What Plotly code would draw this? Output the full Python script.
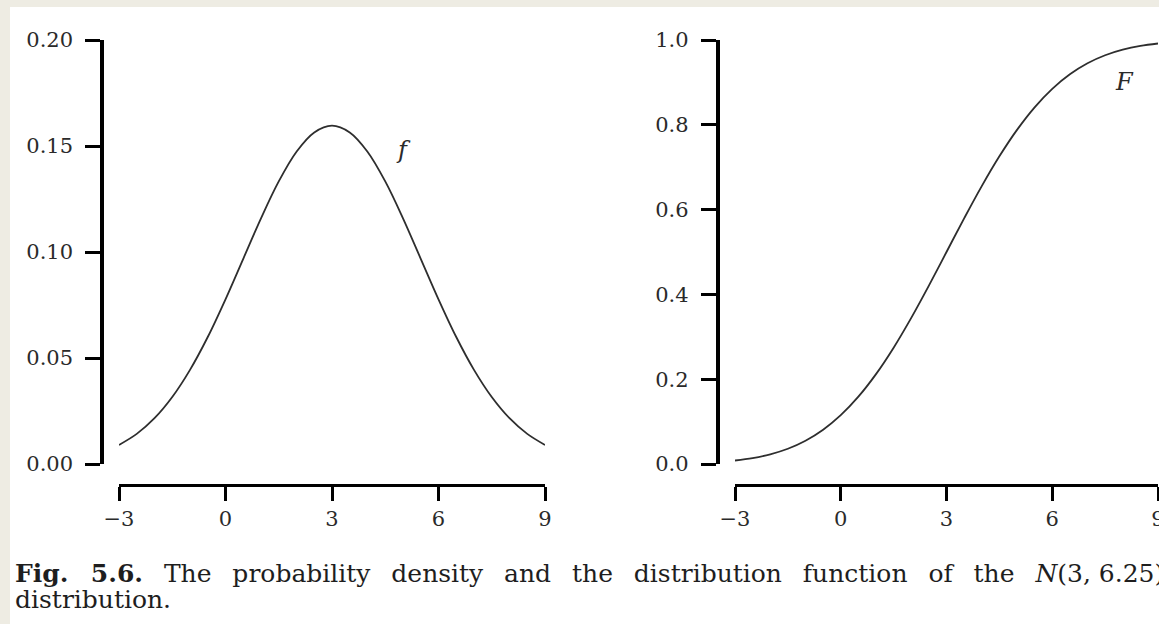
import plotly.graph_objects as go

# Grid of x values and the curves of N(3, 6.25) read at each point
x_vals = [-3.0, -2.5, -2.0, -1.5, -1.0, -0.5, 0.0, 0.5, 1.0, 1.5, 2.0, 2.5, 3.0,
          3.5, 4.0, 4.5, 5.0, 5.5, 6.0, 6.5, 7.0, 7.5, 8.0, 8.5, 9.0]
density = [0.0090, 0.0142, 0.0216, 0.0316, 0.0444, 0.0599, 0.0777, 0.0968, 0.1159,
           0.1333, 0.1473, 0.1564, 0.1596, 0.1564, 0.1473, 0.1333, 0.1159, 0.0968,
           0.0777, 0.0599, 0.0444, 0.0316, 0.0216, 0.0142, 0.0090]
cdf = [0.0082, 0.0139, 0.0228, 0.0359, 0.0548, 0.0808, 0.1151, 0.1587, 0.2119,
       0.2743, 0.3446, 0.4207, 0.5000, 0.5793, 0.6554, 0.7257, 0.7881, 0.8413,
       0.8849, 0.9192, 0.9452, 0.9641, 0.9772, 0.9861, 0.9918]

x_ticks = [-3, 0, 3, 6, 9]
x_tick_text = ["\u22123", "0", "3", "6", "9"]
pdf_ticks = [0.00, 0.05, 0.10, 0.15, 0.20]
cdf_ticks = [0.0, 0.2, 0.4, 0.6, 0.8, 1.0]

W, H = 1159, 624
FONT = "DejaVu Serif"
INK = "#2a2a2a"


def px(x):
    return x / W


def py(y):
    return 1 - y / H


fig = go.Figure()
fig.add_trace(go.Scatter(x=x_vals, y=density, mode="lines", line_shape="spline",
                         line=dict(color="#2e2e2e", width=1.8),
                         xaxis="x", yaxis="y", showlegend=False, hoverinfo="skip"))
fig.add_trace(go.Scatter(x=x_vals, y=cdf, mode="lines", line_shape="spline",
                         line=dict(color="#2e2e2e", width=1.8),
                         xaxis="x2", yaxis="y2", showlegend=False, hoverinfo="skip"))

y_dom = [py(464), py(40)]
x_pos = py(485)

common_x = dict(range=[-3, 9], tickvals=x_ticks, ticktext=x_tick_text,
                showline=True, linecolor="black", linewidth=3,
                ticks="outside", ticklen=14, tickwidth=3, tickcolor="black",
                showgrid=False, zeroline=False, anchor="free", position=x_pos,
                automargin=False, ticklabeloverflow="allow",
                tickfont=dict(family=FONT, size=21, color=INK),
                ticklabelstandoff=0)
common_y = dict(showline=True, linecolor="black", linewidth=3.5,
                ticks="outside", ticklen=15, tickwidth=3, tickcolor="black",
                showgrid=False, zeroline=False, anchor="free", domain=y_dom,
                automargin=False,
                tickfont=dict(family=FONT, size=21, color=INK),
                ticklabelstandoff=8)

fig.update_layout(
    width=W, height=H,
    margin=dict(l=0, r=0, t=0, b=0, pad=0, autoexpand=False),
    paper_bgcolor="#eeece3",
    plot_bgcolor="rgba(0,0,0,0)",
    xaxis=dict(domain=[px(119), px(545)], **common_x),
    yaxis=dict(range=[0, 0.2], tickvals=pdf_ticks, tickformat=".2f",
               position=px(102), **common_y),
    xaxis2=dict(domain=[px(735), px(1158)], **common_x),
    yaxis2=dict(range=[0, 1.0], tickvals=cdf_ticks, tickformat=".1f",
                position=px(717.5), **common_y),
    shapes=[dict(type="rect", xref="paper", yref="paper",
                 x0=px(10), x1=1.0, y0=0, y1=py(7),
                 fillcolor="white", line=dict(width=0), layer="below")],
)

# Curve labels
fig.add_annotation(x=5.0, y=0.148, xref="x", yref="y", text="<i>f</i>",
                   showarrow=False, font=dict(family=FONT, size=24, color=INK))
fig.add_annotation(x=8.05, y=0.90, xref="x2", yref="y2", text="<i>F</i>",
                   showarrow=False, font=dict(family=FONT, size=24, color=INK))

# Caption below the panels; the first line is set with justified word gaps
GAP = "\u00a0\u00a0\u2009"
caption_words = ["<b>Fig.", "5.6.</b>", "The", "probability", "density", "and", "the",
                 "distribution", "function", "of", "the", "<i>N</i>(3,\u00a06.25)"]
fig.add_annotation(x=px(13), y=py(573), xref="paper", yref="paper",
                   xanchor="left", yanchor="middle", showarrow=False,
                   text=GAP.join(caption_words),
                   font=dict(family=FONT, size=25, color="#1e1e1e"))
fig.add_annotation(x=px(13), y=py(599), xref="paper", yref="paper",
                   xanchor="left", yanchor="middle", showarrow=False,
                   text="distribution.",
                   font=dict(family=FONT, size=25, color="#1e1e1e"))

fig.write_html("out.html")
